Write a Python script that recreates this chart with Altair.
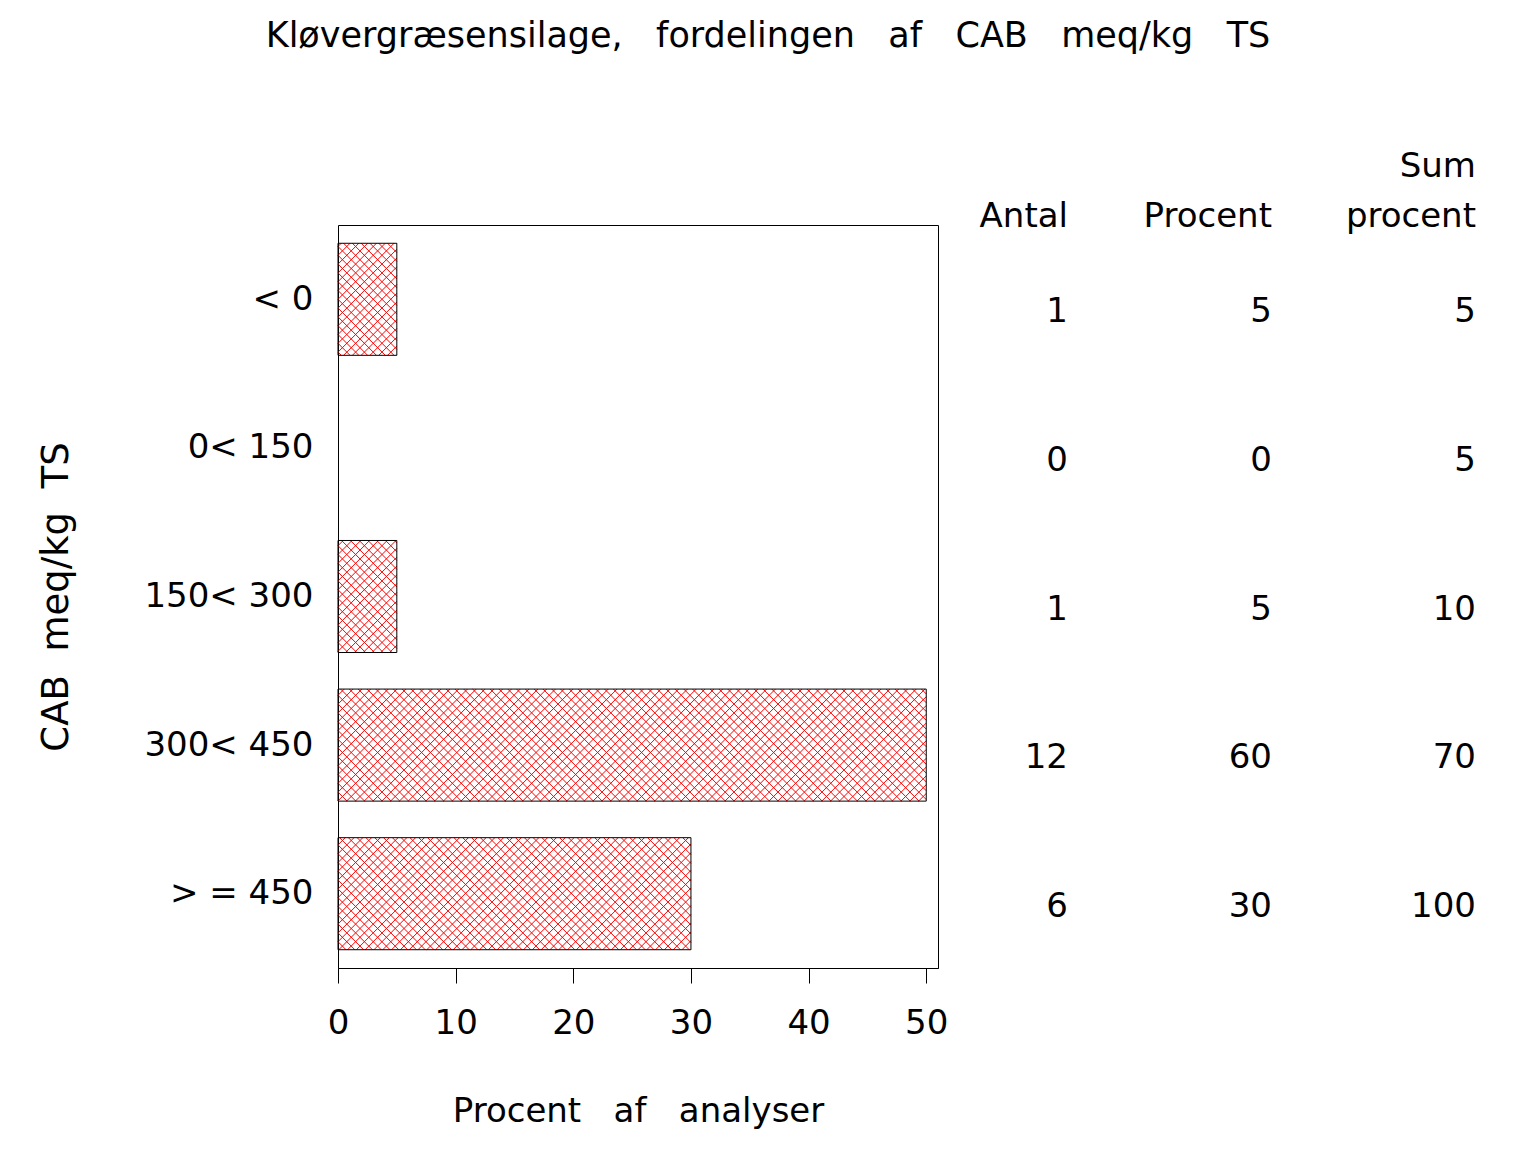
import json
import altair as alt
import pandas as pd

# ---------------- data ----------------
categories = ["< 0", "0< 150", "150< 300", "300< 450", "> = 450"]
antal = [1, 0, 1, 12, 6]
procent = [5, 0, 5, 60, 30]
sum_procent = [5, 5, 10, 70, 100]
table_columns = ["Antal", "Procent", "Sum procent"]
header_line1 = ["", "", "Sum"]
header_line2 = ["Antal", "Procent", "procent"]
x_ticks = [0, 10, 20, 30, 40, 50]

GAP = "\u00a0\u00a0 "   # SAS-style wide word spacing
chart_title = GAP.join(["Kløvergræsensilage,", "fordelingen", "af", "CAB", "meq/kg", "TS"])
x_title = GAP.join(["Procent", "af", "analyser"])
y_title = "\u00a0 ".join(["CAB", "meq/kg", "TS"])

# ---------------- layout / style ----------------
FONT = "DejaVu Sans"
FS = 34
W, H = 600, 743
XMAX = 51          # axis frame extends a little past 50
AXIS_CAP = 50      # bars are drawn up to the last tick
HALF = 0.377       # half bar height in category units
KX = W / XMAX      # px per percent
KY = H / 5.0       # px per category step
S = 8.8            # hatch spacing (px)

bars_df = pd.DataFrame({"cat": categories, "idx": list(range(len(categories))), "pct": procent})

rows = []
for i in range(len(categories)):
    for ci, vals in enumerate([antal, procent, sum_procent]):
        rows.append({"idx": i, "ci": ci, "col": table_columns[ci], "val": str(vals[i])})
table_df = pd.DataFrame(rows)
head_df = pd.DataFrame({"ci": list(range(len(table_columns))), "col": table_columns,
                        "l1": header_line1, "l2": header_line2})

xscale = alt.Scale(domain=[0, XMAX], nice=False, zero=True)
yscale = alt.Scale(domain=[-0.5, 4.5], reverse=True, nice=False, zero=False)

label_expr = json.dumps(categories) + "[datum.value]"

xaxis = alt.Axis(values=x_ticks, tickSize=15, tickColor="black", tickWidth=1,
                 domain=True, domainColor="black", labelFlush=False, labelOverlap=False,
                 labelFont=FONT, labelFontSize=FS, labelColor="black", labelPadding=23,
                 titleFont=FONT, titleFontSize=FS, titleFontWeight="normal",
                 titleColor="black", titlePadding=54, grid=False, format="d")
yaxis = alt.Axis(values=[0, 1, 2, 3, 4], labelExpr=label_expr, ticks=False, domain=False,
                 labelFont=FONT, labelFontSize=FS, labelColor="black", labelPadding=25,
                 titleFont=FONT, titleFontSize=37, titleFontWeight="normal",
                 titleColor="black", titlePadding=68, grid=False)

base = alt.Chart(bars_df).transform_filter("datum.pct > 0").transform_calculate(
    x0="0",
    xe=f"min(datum.pct, {AXIS_CAP})",
    y0=f"datum.idx - {HALF}",
    y1=f"datum.idx + {HALF}",
    u1=f"min(datum.pct, {AXIS_CAP}) * {KX}",
    v0=f"(datum.idx - {HALF}) * {KY}",
    v1=f"(datum.idx + {HALF}) * {KY}",
)

bars = base.mark_rect(fill="transparent", stroke="black", strokeWidth=1).encode(
    x=alt.X("x0:Q", scale=xscale, axis=xaxis, title=x_title),
    x2="xe:Q",
    y=alt.Y("y0:Q", scale=yscale, axis=yaxis, title=y_title),
    y2="y1:Q",
)


def hatch(direction):
    if direction == 1:  # u - v = c
        seq = f"sequence(ceil(-datum.v1 / {S}) * {S}, datum.u1 - datum.v0, {S})"
        ua = "max(0, datum.v0 + datum.c)"
        ub = "min(datum.u1, datum.v1 + datum.c)"
        va = "datum.ua - datum.c"
        vb = "datum.ub - datum.c"
    else:  # u + v = c
        seq = f"sequence(ceil(datum.v0 / {S}) * {S}, datum.u1 + datum.v1 + {S}, {S})"
        ua = "max(0, datum.c - datum.v1)"
        ub = "min(datum.u1, datum.c - datum.v0)"
        va = "datum.c - datum.ua"
        vb = "datum.c - datum.ub"
    return (
        base.transform_calculate(c=seq)
        .transform_flatten(["c"])
        .transform_calculate(ua=ua, ub=ub)
        .transform_filter("datum.ua < datum.ub")
        .transform_calculate(va=va, vb=vb)
        .transform_calculate(hx=f"datum.ua / {KX}", hx2=f"datum.ub / {KX}",
                             hy=f"datum.va / {KY}", hy2=f"datum.vb / {KY}")
        .mark_rule(color="#ff0000", strokeWidth=1)
        .encode(
            x=alt.X("hx:Q", scale=xscale, axis=xaxis, title=x_title),
            x2="hx2:Q",
            y=alt.Y("hy:Q", scale=yscale, axis=yaxis, title=y_title),
            y2="hy2:Q",
        )
    )


# table columns: right edges of the three text columns (px from plot left)
col_scale = alt.Scale(domain=[0, len(table_columns) - 1], range=[730, 1138], nice=False, zero=False)

values_text = alt.Chart(table_df).mark_text(
    align="right", baseline="middle", dy=13, font=FONT, fontSize=FS, color="black"
).encode(
    x=alt.X("ci:Q", scale=col_scale, axis=None),
    y=alt.Y("idx:Q", scale=yscale, axis=yaxis, title=y_title),
    text="val:N",
)

head1 = alt.Chart(head_df).mark_text(
    align="right", baseline="alphabetic", font=FONT, fontSize=FS, color="black"
).encode(x=alt.X("ci:Q", scale=col_scale, axis=None), y=alt.value(-48), text="l1:N")

head2 = alt.Chart(head_df).mark_text(
    align="right", baseline="alphabetic", font=FONT, fontSize=FS, color="black"
).encode(x=alt.X("ci:Q", scale=col_scale, axis=None), y=alt.value(2), text="l2:N")

plot = alt.layer(hatch(1), hatch(-1), bars)
table = alt.layer(values_text, head1, head2)

chart = (
    alt.layer(plot, table)
    .resolve_scale(x="independent")
    .properties(
        width=W,
        height=H,
        background="white",
        title=alt.TitleParams(chart_title, font=FONT, fontSize=35, fontWeight="normal",
                              color="black", anchor="middle", dx=130, offset=96),
        autosize=alt.AutoSizeParams(type="none"),
        padding={"left": 330, "top": 217, "right": 580, "bottom": 170},
    )
    .configure_view(stroke="black", strokeWidth=1)
)

chart.save("out.html", embed_options={"renderer": "svg", "actions": False})
